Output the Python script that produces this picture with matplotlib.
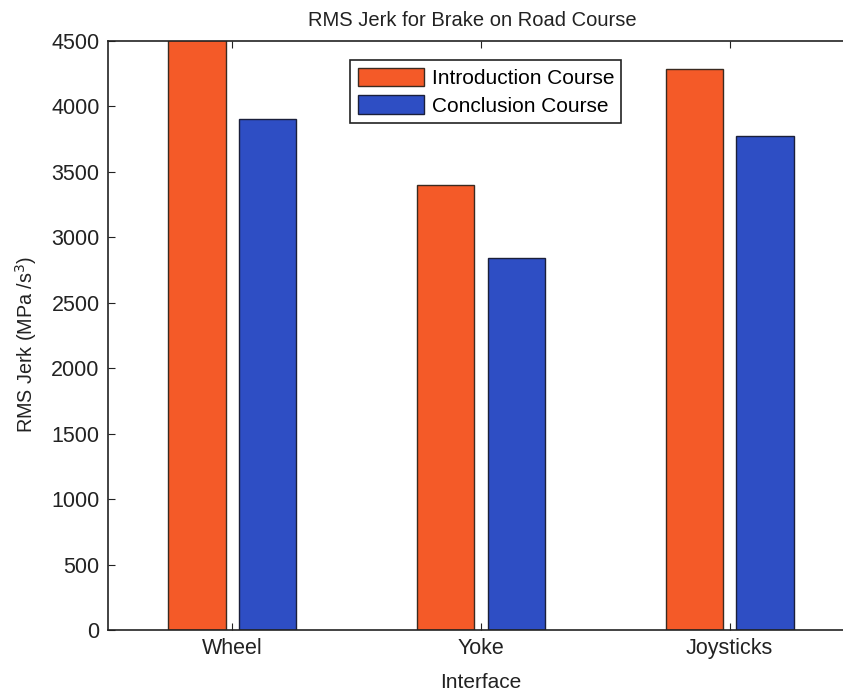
import matplotlib.pyplot as plt
import numpy as np

# data
interfaces = ['Wheel', 'Yoke', 'Joysticks']
intro_course = [4520, 3400, 4285]
conclusion_course = [3905, 2845, 3775]
series_names = ['Introduction Course', 'Conclusion Course']

orange = '#F45A28'
blue = '#2E4EC4'

plt.rcParams['font.family'] = ['Liberation Sans', 'DejaVu Sans']
plt.rcParams['font.size'] = 15.5

fig = plt.figure(figsize=(8.43, 6.91), dpi=100)
# the right edge of the axes lies just past the picture (cropped like the reference)
ax = fig.add_axes([108/843, 1-630/691, 746/843, 589/691])

x = np.arange(1, len(interfaces)+1)
w = 0.23
ax.bar(x-0.142, intro_course, w, color=orange, edgecolor='#3a2a20', linewidth=1.0, label=series_names[0])
ax.bar(x+0.142, conclusion_course, w, color=blue, edgecolor='#1a1f3a', linewidth=1.0, label=series_names[1])

ax.set_xlim(0.5, 3.5)
ax.set_ylim(0, 4500)
ax.set_yticks(np.arange(0, 4501, 500))
ax.set_xticks(x)
ax.set_xticklabels(interfaces)
ax.tick_params(direction='in', top=True, right=True, length=5, colors='#222222', labelcolor='#222222', pad=6)

for s in ax.spines.values():
    s.set_color('#222222')
    s.set_linewidth(1.2)

ax.set_title('RMS Jerk for Brake on Road Course', fontsize=14.5, color='#222222', pad=11, x=0.488)
ax.set_xlabel('Interface', fontsize=15, color='#222222', labelpad=10)
ax.set_ylabel('RMS Jerk (MPa /s$^3$)', fontsize=14.2, color='#222222')
ax.yaxis.set_label_coords(-0.093, 0.484)

leg = ax.legend(loc='upper left', bbox_to_anchor=(340/843, 1-50/691), bbox_transform=fig.transFigure,
                fancybox=False, framealpha=1, edgecolor='#222222', handlelength=3.2, handleheight=1.0,
                handletextpad=0.35, borderpad=0.35, labelspacing=0.35, fontsize=15)
leg.get_frame().set_linewidth(1.2)

fig.savefig('out.png', dpi=100)
